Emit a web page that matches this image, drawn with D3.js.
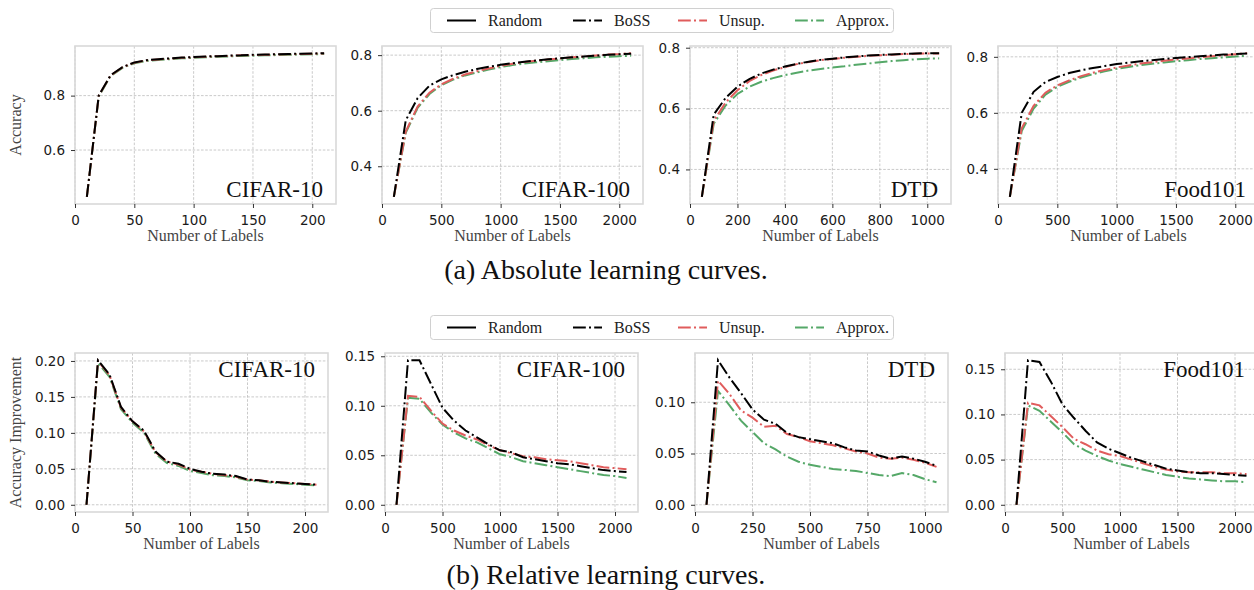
<!DOCTYPE html>
<html>
<head>
<meta charset="utf-8">
<script src="https://cdn.jsdelivr.net/npm/d3@7"></script>
<style>
body{margin:0;background:#fff;}
svg{display:block;}
</style>
</head>
<body>
<script>
// ---- data ----
var datasets = ["CIFAR-10", "CIFAR-100", "DTD", "Food101"];
var methods = ["Random", "BoSS", "Unsup.", "Approx."];

var labelsC10 = [10,20,30,40,50,60,70,80,90,100,110,120,130,140,150,160,170,180,190,200,210];
var labelsC100 = [100,200,300,400,500,600,700,800,900,1000,1100,1200,1300,1400,1500,1600,1700,1800,1900,2000,2100];
var labelsDtd = [50,100,150,200,250,300,350,400,450,500,550,600,650,700,750,800,850,900,950,1000,1050];
var labelsFood = [100,200,300,400,500,600,700,800,900,1000,1100,1200,1300,1400,1500,1600,1700,1800,1900,2000,2100];

// absolute accuracy
var absC10Boss   = [0.428,0.800,0.875,0.905,0.922,0.930,0.934,0.937,0.940,0.942,0.944,0.945,0.947,0.948,0.950,0.951,0.952,0.953,0.954,0.955,0.956];
var absC10Unsup  = [0.428,0.799,0.874,0.904,0.921,0.929,0.933,0.936,0.939,0.941,0.943,0.945,0.946,0.948,0.949,0.950,0.951,0.952,0.953,0.954,0.955];
var absC10Approx = [0.428,0.797,0.872,0.902,0.919,0.927,0.931,0.934,0.937,0.939,0.941,0.943,0.944,0.946,0.947,0.948,0.949,0.950,0.951,0.952,0.953];

var absC100Boss   = [0.290,0.565,0.645,0.690,0.713,0.728,0.740,0.750,0.758,0.765,0.771,0.776,0.781,0.785,0.789,0.792,0.795,0.798,0.801,0.803,0.805];
var absC100Unsup  = [0.290,0.525,0.615,0.665,0.695,0.715,0.730,0.742,0.752,0.762,0.769,0.775,0.780,0.784,0.788,0.792,0.795,0.799,0.802,0.804,0.807];
var absC100Approx = [0.290,0.520,0.610,0.660,0.692,0.712,0.727,0.738,0.748,0.757,0.764,0.770,0.774,0.778,0.782,0.786,0.789,0.792,0.794,0.796,0.798];

var absDtdBoss   = [0.310,0.580,0.635,0.672,0.697,0.715,0.728,0.738,0.747,0.754,0.760,0.764,0.768,0.771,0.774,0.776,0.778,0.780,0.781,0.782,0.782];
var absDtdUnsup  = [0.310,0.560,0.620,0.660,0.690,0.710,0.725,0.736,0.746,0.753,0.759,0.763,0.767,0.770,0.773,0.775,0.777,0.779,0.780,0.781,0.781];
var absDtdApprox = [0.310,0.550,0.610,0.648,0.672,0.688,0.700,0.710,0.718,0.725,0.730,0.735,0.739,0.744,0.748,0.752,0.756,0.759,0.762,0.764,0.765];

var absFoodBoss   = [0.300,0.600,0.675,0.710,0.728,0.742,0.752,0.760,0.767,0.774,0.779,0.784,0.788,0.792,0.796,0.799,0.802,0.805,0.808,0.810,0.812];
var absFoodUnsup  = [0.300,0.545,0.625,0.672,0.698,0.716,0.731,0.743,0.753,0.762,0.769,0.776,0.781,0.786,0.790,0.794,0.798,0.802,0.805,0.809,0.813];
var absFoodApprox = [0.300,0.535,0.615,0.665,0.693,0.711,0.726,0.738,0.748,0.757,0.764,0.770,0.775,0.780,0.784,0.788,0.792,0.795,0.798,0.801,0.804];

// accuracy improvement over random
var relC10Boss   = [0,0.201,0.181,0.136,0.116,0.103,0.074,0.060,0.057,0.050,0.046,0.043,0.042,0.040,0.035,0.034,0.032,0.031,0.030,0.029,0.028];
var relC10Unsup  = [0,0.200,0.180,0.135,0.116,0.102,0.073,0.060,0.056,0.049,0.046,0.043,0.041,0.039,0.035,0.034,0.032,0.031,0.030,0.029,0.028];
var relC10Approx = [0,0.197,0.178,0.133,0.114,0.100,0.071,0.058,0.054,0.047,0.044,0.041,0.040,0.038,0.034,0.033,0.031,0.030,0.029,0.028,0.027];

var relC100Boss   = [0,0.146,0.146,0.122,0.098,0.085,0.075,0.068,0.061,0.055,0.053,0.048,0.046,0.044,0.042,0.041,0.039,0.037,0.035,0.034,0.033];
var relC100Unsup  = [0,0.110,0.109,0.095,0.082,0.075,0.070,0.066,0.060,0.055,0.052,0.049,0.048,0.046,0.045,0.044,0.042,0.040,0.038,0.037,0.036];
var relC100Approx = [0,0.108,0.107,0.093,0.081,0.073,0.067,0.063,0.057,0.051,0.048,0.044,0.042,0.040,0.038,0.036,0.034,0.032,0.030,0.029,0.027];

var relDtdBoss   = [0,0.141,0.124,0.109,0.093,0.083,0.079,0.070,0.066,0.064,0.062,0.060,0.056,0.053,0.052,0.048,0.045,0.047,0.045,0.042,0.038];
var relDtdUnsup  = [0,0.121,0.108,0.092,0.085,0.076,0.077,0.069,0.066,0.062,0.060,0.058,0.055,0.052,0.050,0.046,0.045,0.046,0.044,0.041,0.037];
var relDtdApprox = [0,0.111,0.097,0.082,0.071,0.060,0.054,0.047,0.042,0.039,0.037,0.035,0.034,0.033,0.031,0.029,0.028,0.031,0.029,0.025,0.022];

var relFoodBoss   = [0,0.160,0.158,0.136,0.111,0.096,0.082,0.069,0.062,0.057,0.052,0.048,0.044,0.040,0.038,0.036,0.035,0.035,0.034,0.033,0.032];
var relFoodUnsup  = [0,0.113,0.110,0.098,0.086,0.073,0.067,0.060,0.056,0.054,0.050,0.046,0.042,0.039,0.037,0.036,0.036,0.036,0.035,0.035,0.034];
var relFoodApprox = [0,0.110,0.104,0.092,0.080,0.067,0.060,0.054,0.049,0.045,0.042,0.039,0.036,0.033,0.031,0.029,0.028,0.027,0.026,0.026,0.025];

var xTicksC10 = [0,50,100,150,200];
var xTicksBig = [0,500,1000,1500,2000];
var xTicksDtdAbs = [0,200,400,600,800,1000];
var xTicksDtdRel = [0,250,500,750,1000];
var yTicksAbsC10 = [0.6,0.8];
var yTicksAbs = [0.4,0.6,0.8];
var yTicksRelC10 = [0,0.05,0.10,0.15,0.20];
var yTicksRel = [0,0.05,0.10,0.15];
var yTicksRelDtd = [0,0.05,0.10];

var captions = ["(a) Absolute learning curves.", "(b) Relative learning curves."];

// ---- layout ----
var width = 1254, height = 590;
var colors = {"Random":"#000000","BoSS":"#000000","Unsup.":"#e05c5c","Approx.":"#55a868"};
var dashes = {"Random":null,"BoSS":"12.8,3.2,2,3.2","Unsup.":"12.8,3.2,2,3.2","Approx.":"12.8,3.2,2,3.2"};
var serif = "'Liberation Serif','Times New Roman',serif";
var sans = "'DejaVu Sans',sans-serif";

var rows = [
    {top:46, bottom:204, lefts:[75,382,690,998], w:261, fmt:d3.format(".1f"), ylabel:"Accuracy", titleTop:false,
     legendY:8, caption:captions[0], captionY:279,
     panels:[
        {x:labelsC10, boss:absC10Boss, unsup:absC10Unsup, approx:absC10Approx, xt:xTicksC10, yt:yTicksAbsC10},
        {x:labelsC100, boss:absC100Boss, unsup:absC100Unsup, approx:absC100Approx, xt:xTicksBig, yt:yTicksAbs},
        {x:labelsDtd, boss:absDtdBoss, unsup:absDtdUnsup, approx:absDtdApprox, xt:xTicksDtdAbs, yt:yTicksAbs},
        {x:labelsFood, boss:absFoodBoss, unsup:absFoodUnsup, approx:absFoodApprox, xt:xTicksBig, yt:yTicksAbs}]},
    {top:353, bottom:512, lefts:[75,385,695,1005], w:253, fmt:d3.format(".2f"), ylabel:"Accuracy Improvement", titleTop:true,
     legendY:315, caption:captions[1], captionY:584,
     panels:[
        {x:labelsC10, boss:relC10Boss, unsup:relC10Unsup, approx:relC10Approx, xt:xTicksC10, yt:yTicksRelC10},
        {x:labelsC100, boss:relC100Boss, unsup:relC100Unsup, approx:relC100Approx, xt:xTicksBig, yt:yTicksRel},
        {x:labelsDtd, boss:relDtdBoss, unsup:relDtdUnsup, approx:relDtdApprox, xt:xTicksDtdRel, yt:yTicksRelDtd},
        {x:labelsFood, boss:relFoodBoss, unsup:relFoodUnsup, approx:relFoodApprox, xt:xTicksBig, yt:yTicksRel}]}
];

var svg = d3.select("body").append("svg")
    .attr("width", width)
    .attr("height", height);

function padded(ext){
    var p = (ext[1]-ext[0])*0.05;
    return [ext[0]-p, ext[1]+p];
}

rows.forEach(function(row){
    row.panels.forEach(function(p,i){
        var left = row.lefts[i], w = row.w, h = row.bottom - row.top;
        var g = svg.append("g").attr("transform","translate("+left+","+row.top+")");

        var x = d3.scaleLinear().domain(padded(d3.extent(p.x))).range([0,w]);
        var allY = p.boss.concat(p.unsup, p.approx);
        var y = d3.scaleLinear().domain(padded(d3.extent(allY))).range([h,0]);

        // grid
        g.selectAll(".gx").data(p.xt).enter().append("line")
            .attr("x1",function(d){return x(d);}).attr("x2",function(d){return x(d);})
            .attr("y1",0).attr("y2",h)
            .attr("stroke","#bdbdbd").attr("stroke-width",0.8).attr("stroke-dasharray","2.6,1.6");
        g.selectAll(".gy").data(p.yt).enter().append("line")
            .attr("x1",0).attr("x2",w)
            .attr("y1",function(d){return y(d);}).attr("y2",function(d){return y(d);})
            .attr("stroke","#bdbdbd").attr("stroke-width",0.8).attr("stroke-dasharray","2.6,1.6");

        // frame
        g.append("rect").attr("width",w).attr("height",h)
            .attr("fill","none").attr("stroke","#d9d9d9").attr("stroke-width",1.6);

        // axes
        var xa = g.append("g").attr("transform","translate(0,"+h+")")
            .call(d3.axisBottom(x).tickValues(p.xt).tickFormat(d3.format("d")).tickSize(4).tickPadding(7));
        var ya = g.append("g")
            .call(d3.axisLeft(y).tickValues(p.yt).tickFormat(row.fmt).tickSize(4).tickPadding(6));
        [xa,ya].forEach(function(a){
            a.select(".domain").remove();
            a.selectAll(".tick line").attr("stroke","#333").attr("stroke-width",1);
            a.selectAll(".tick text").attr("fill","#1a1a1a").style("font-family",sans).style("font-size","13.5px");
        });

        // lines
        var line = d3.line().x(function(d){return x(d[0]);}).y(function(d){return y(d[1]);});
        [["Approx.",p.approx],["Unsup.",p.unsup],["BoSS",p.boss]].forEach(function(s){
            g.append("path")
                .datum(p.x.map(function(v,k){return [v,s[1][k]];}))
                .attr("d",line)
                .attr("fill","none")
                .attr("stroke",colors[s[0]])
                .attr("stroke-width",2)
                .attr("stroke-dasharray",dashes[s[0]]);
        });

        // dataset name
        g.append("text")
            .attr("x",w-13)
            .attr("y",row.titleTop ? 24 : h-7)
            .attr("text-anchor","end")
            .style("font-family",serif).style("font-size","23px").attr("fill","#111")
            .text(datasets[i]);

        // x label
        g.append("text")
            .attr("x",w/2).attr("y",h+36.5)
            .attr("text-anchor","middle")
            .style("font-family",serif).style("font-size","16px").attr("fill","#444")
            .text("Number of Labels");
    });

    // y label
    svg.append("text")
        .attr("transform","translate(21,"+((row.top+row.bottom)/2)+") rotate(-90)")
        .attr("text-anchor","middle")
        .style("font-family",serif).style("font-size","16px").attr("fill","#444")
        .text(row.ylabel);

    // legend
    var lg = svg.append("g").attr("transform","translate(430,"+row.legendY+")");
    lg.append("rect").attr("x",0.5).attr("y",0.5).attr("width",463).attr("height",24)
        .attr("rx",3).attr("fill","#fff").attr("stroke","#d0d0d0").attr("stroke-width",1);
    var handleX = [17,143,248,365];
    methods.forEach(function(m,k){
        lg.append("line")
            .attr("x1",handleX[k]).attr("x2",handleX[k]+29)
            .attr("y1",12.5).attr("y2",12.5)
            .attr("stroke",colors[m]).attr("stroke-width",2)
            .attr("stroke-dasharray",dashes[m]);
        lg.append("text")
            .attr("x",handleX[k]+41).attr("y",17.5)
            .style("font-family",serif).style("font-size","16px").attr("fill","#222")
            .text(m);
    });

    // caption
    svg.append("text")
        .attr("x",606).attr("y",row.captionY)
        .attr("text-anchor","middle")
        .style("font-family",serif).style("font-size","28px").attr("fill","#111")
        .text(row.caption);
});
</script>
</body>
</html>
